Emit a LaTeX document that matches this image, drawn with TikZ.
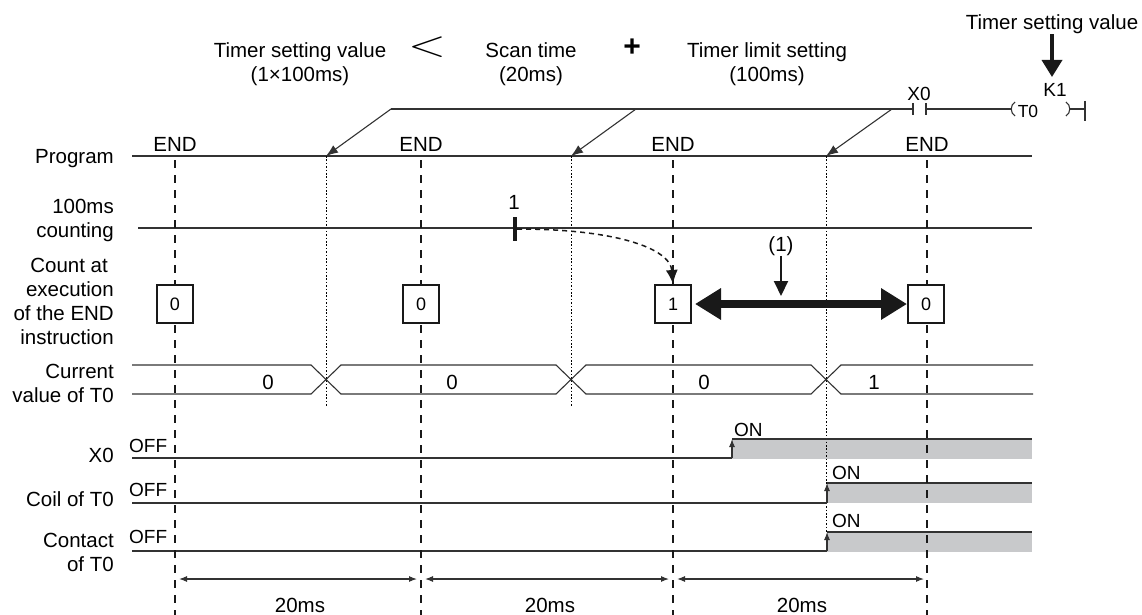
\documentclass[tikz,border=0pt]{standalone}
\usepackage{fontspec}
\setmainfont{Liberation Sans}
\usetikzlibrary{arrows.meta}
\definecolor{ln}{RGB}{50,50,50}
\definecolor{sig}{RGB}{200,201,203}
\begin{document}
\begin{tikzpicture}[x=1pt,y=-1pt,
  lbl/.style={font=\fontsize{20.5}{24}\selectfont, inner sep=0pt, text=black},
  sml/.style={font=\fontsize{19}{21}\selectfont, inner sep=0pt, text=black},
  tl/.style={draw=ln, line width=1.1pt},
  endln/.style={draw=black!90, line width=2.8pt, dash pattern=on 8pt off 7pt},
  dotln/.style={draw=black, line width=0.9pt, dash pattern=on 1.6pt off 1.8pt},
  cbox/.style={draw=black!90, line width=2pt, fill=white, minimum width=36pt, minimum height=38pt, inner sep=0pt, font=\fontsize{18}{20}\selectfont},
  smarr/.style={-{Latex[length=12pt,width=9pt]}},
  dimarr/.style={tl, {Latex[length=8pt,width=6pt]}-{Latex[length=8pt,width=6pt]}},
  rise/.style={tl, -{Latex[length=8pt,width=6pt]}},
]
\useasboundingbox (0,0) rectangle (1142,615);

% ON areas
\fill[sig] (732,439) rectangle (1032,459);
\fill[sig] (827,483) rectangle (1032,503);
\fill[sig] (827,532) rectangle (1032,552);

% top formula
\node[lbl, align=center] (tsv) at (300,64) {Timer setting value\\(1×100ms)};
\node[inner sep=0pt] (lt) at (427,47) {\scalebox{2}[1.5]{\fontsize{24.88}{26}\selectfont$<$}};
\node[lbl, font=\fontsize{30}{30}\selectfont\bfseries] (plus) at (632,48) {+};
\node[lbl, align=center] (scan) at (531,64) {Scan time\\(20ms)};
\node[lbl, align=center] (tls) at (767,64) {Timer limit setting\\(100ms)};

% ladder
\node[lbl, anchor=base] (tsv2) at (1052,30) {Timer setting value};
\coordinate (ktip) at (1052,77);
\draw[line width=3.5pt, draw=black!90, -{Triangle[length=17pt,width=20pt]}] (tsv2.south) -- (ktip);
\node[sml] (k1) at (1055,90) {K1};
\node[sml] (x0l) at (919,94) {X0};
\coordinate (cl) at (913,109);
\coordinate (cr) at (926,109);
\draw[tl] (913,103) -- (913,115);
\draw[tl] (926,103) -- (926,115);
\coordinate (coill) at (1011,109);
\coordinate (coilr) at (1070,109);
\coordinate (rail) at (1085,109);
\draw[tl] (cr) -- (coill);
\draw[tl] (1015,102) .. controls (1010,105) and (1010,113) .. (1015,116);
\node[sml, font=\fontsize{17.5}{20}\selectfont] (t0) at (1028,111) {T0};
\draw[tl] (1066,102) .. controls (1071,105) and (1071,113) .. (1066,116);
\draw[tl] (coilr) -- (rail);
\draw[tl] (1085,101) -- (1085,121);

% program line and scan arrows
\draw[tl] (132,156) -- (1032,156);
\coordinate (t1) at (391,109);
\coordinate (t2) at (636,109);
\coordinate (t3) at (892,109);
\draw[tl] (t1) -- (cl);
\coordinate (d1) at (326,156);
\coordinate (d2) at (571,156);
\coordinate (d3) at (826,156);
\coordinate (d1b) at (326,407);
\coordinate (d2b) at (571,407);
\coordinate (d3b) at (826,532);
\draw[dotln] (d1) -- (d1b);
\draw[dotln] (d2) -- (d2b);
\draw[dotln] (d3) -- (d3b);
\draw[tl, smarr] (t1) -- (d1);
\draw[tl, smarr] (t2) -- (d2);
\draw[tl, smarr] (t3) -- (d3);

% counting line
\draw[tl] (138,228) -- (1032,228);

% signals
\draw[tl] (132,458) -- (732,458);
\draw[rise] (732,458) -- (732,439);
\draw[tl] (732,439) -- (1032,439);
\draw[tl] (132,503) -- (827,503);
\draw[rise] (827,503) -- (827,483);
\draw[tl] (827,483) -- (1032,483);
\draw[tl] (132,551) -- (827,551);
\draw[rise] (827,551) -- (827,532);
\draw[tl] (827,532) -- (1032,532);

% bus
\draw[tl] (132,365) -- (311,365) -- (341,394) -- (556,394) -- (586,365) -- (811,365) -- (841,394) -- (1033,394);
\draw[tl] (132,394) -- (311,394) -- (341,365) -- (556,365) -- (586,394) -- (811,394) -- (841,365) -- (1033,365);
\node[lbl] (v1) at (268,382) {0};
\node[lbl] (v2) at (452,382) {0};
\node[lbl] (v3) at (704,382) {0};
\node[lbl] (v4) at (874,382) {1};

% END lines
\foreach \n/\x in {1/175,2/421,3/673,4/927}{
  \node[lbl, anchor=base] (e\n) at (\x,151) {END};
  \coordinate (eb\n) at (\x,615);
  \draw[endln] ([yshift=-9pt]e\n.base) -- (eb\n);
}

% count boxes
\node[cbox] (b1) at (175,304) {0};
\node[cbox] (b2) at (421,304) {0};
\node[cbox] (b3) at (673,304) {1};
\node[cbox] (b4) at (926,304) {0};

% 100 ms tick and dashed curve
\node[fill=black!90, minimum width=4pt, minimum height=24pt, inner sep=0pt] (tick) at (515,229) {};
\node[lbl] (one) at (514,202) {1};
\draw[line width=1.5pt, draw=black!90, dash pattern=on 5pt off 4pt, -{Latex[length=14pt,width=12pt]}]
  (tick.east) .. controls (615,229) and (670,248) .. (b3.north);

% (1)
\draw[line width=8pt, draw=black!90, {Triangle[length=26pt,width=30pt]}-{Triangle[length=26pt,width=30pt]}] ([xshift=3pt]b3.east) -- (b4.west);
\node[lbl] (p1) at (781,246) {(1)};
\coordinate (p1t) at (781,296);
\draw[line width=2pt, draw=black!90, -{Triangle[length=15pt,width=14pt]}] (p1.south) -- (p1t);

% OFF / ON
\node[sml, anchor=west] (off1) at (129,446) {OFF};
\node[sml, anchor=west] (off2) at (129,490) {OFF};
\node[sml, anchor=west] (off3) at (129,537) {OFF};
\node[sml, anchor=west] (on1) at (734,430) {ON};
\node[sml, anchor=west] (on2) at (832,473) {ON};
\node[sml, anchor=west] (on3) at (832,521) {ON};

% row labels
\node[lbl, anchor=base east] (rprog) at (114,163) {Program};
\node[lbl, anchor=east, align=right] (rcnt) at (114,220) {100ms\\counting};
\node[lbl, anchor=east, align=right] (rend) at (114,301) {Count at\hspace*{6pt}\\execution\\of the END\\instruction};
\node[lbl, anchor=east, align=right] (rcur) at (114,383) {Current\\value of T0};
\node[lbl, anchor=base east] (rx0) at (114,462) {X0};
\node[lbl, anchor=base east] (rcoil) at (114,506) {Coil of T0};
\node[lbl, anchor=east, align=right] (rcon) at (114,552) {Contact\\of T0};

% 20 ms dimensions
\coordinate (m1a) at (179,579); \coordinate (m1b) at (417,579);
\coordinate (m2a) at (425,579); \coordinate (m2b) at (669,579);
\coordinate (m3a) at (677,579); \coordinate (m3b) at (924,579);
\draw[dimarr] (m1a) -- (m1b);
\draw[dimarr] (m2a) -- (m2b);
\draw[dimarr] (m3a) -- (m3b);
\node[lbl] (ms1) at (300,605) {20ms};
\node[lbl] (ms2) at (550,605) {20ms};
\node[lbl] (ms3) at (802,605) {20ms};
\end{tikzpicture}
\end{document}
